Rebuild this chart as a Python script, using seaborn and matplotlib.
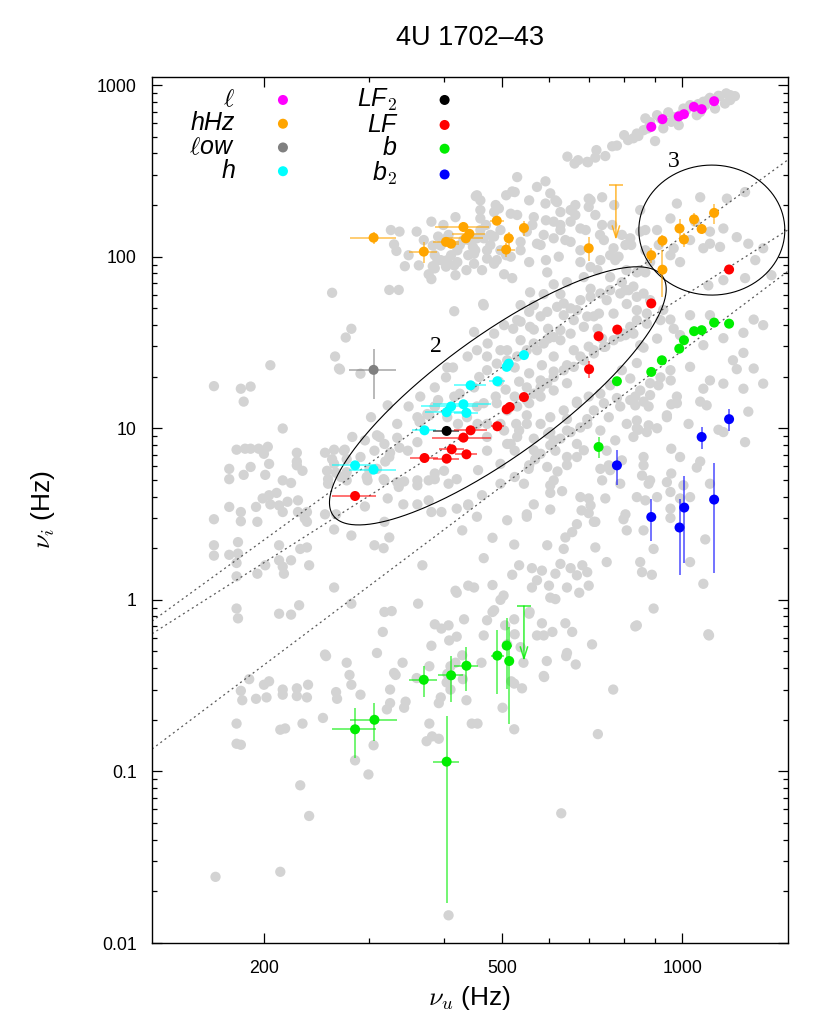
import numpy as np
import matplotlib
matplotlib.use('Agg')
import matplotlib.pyplot as plt
from matplotlib.ticker import NullFormatter, FixedLocator, LogLocator
import seaborn as sns

sns.set_theme(style='ticks')
plt.rcParams['font.family'] = ['Liberation Sans', 'DejaVu Sans']
plt.rcParams['mathtext.fontset'] = 'cm'
for k in ['text.color', 'axes.labelcolor', 'xtick.color', 'ytick.color', 'axes.edgecolor']:
    plt.rcParams[k] = 'black'

# ---------------- data (Hz) ----------------
# all QPOs of the sample (background)
grey_points = [
    # upper kHz-like track
    (643,383),(661,349),(694,357),(716,378),(744,386),(778,444),(800,511),(829,490),(840,522),(862,546),
    (901,472),(868,640),(908,668),(948,694),(959,611),(1005,730),(1031,764),(1085,800),(1113,843),(1150,866),
    (1185,895),(1179,781),(1135,730),(1058,668),(987,584),(884,608),(920,640),(1072,697),(1093,764),(1203,818),
    (1225,862),(992,668),(930,560),
    (719,418),(764,440),(812,478),(845,505),(877,560),(933,611),(970,650),(1015,715),(1064,775),(1105,818),
    (1155,862),(1203,874),(696,355),(670,365),
    # hHz band
    (530,291),(572,255),(591,275),(602,234),(525,238),(454,228),(555,213),(591,204),(626,182),(651,187),
    (698,218),(698,195),(735,222),(618,208),(460,187),(485,182),(460,167),(517,178),(565,170),(610,160),
    (651,160),(676,146),(735,153),(626,143),(550,140),(587,134),(454,128),(478,134),(537,122),(572,119),
    (610,128),(651,122),(740,125),(768,112),(783,100),(804,117),(819,128),(851,140),(449,104),(485,91),
    (463,83.5),(504,79),(520,75),(555,93),(595,81),(622,100),(676,93),(703,87),(758,102),(840,81),
    (466,52),(555,47.7),
    (381,160),(418,170),(326,143),(337,140),(360,140),(330,118),(333,108),(383,116),(395,116),(395,95.5),
    (405,95.5),(411,102),(383,88),(344,88),(377,79),(381,74),(418,78),
    (452,225),(494,191),(520,240),(391,131),(404,128),(460,143),(466,128),(485,131),(447,114),(472,109),
    (497,109),(421,109),(439,102),(390,95.5),(421,93),(449,91),(472,97.5),(490,95.5),(517,100),(386,85.5),
    (403,87.5),(436,83.5),
    (460,213),(488,200),(508,228),(530,175),(562,153),(592,163),(626,153),(663,175),(690,143),(716,175),
    (764,153),(793,134),(822,117),(729,134),(638,125),(580,117),(537,109),(508,102),(478,117),(451,109),
    (440,125),(470,153),(497,143),(614,213),(663,200),(703,213),(770,200),(851,187),(868,109),(914,117),
    (592,95.5),(676,109),(730,95.5),(807,83.5),
    (407,134),(425,117),(399,153),(370,125),(349,102),(363,89),(416,89),(386,102),(431,125),
    # around region 3
    (868,143),(908,143),(956,167),(980,204),(1072,222),(1188,218),(1274,238),(1051,160),(1113,140),(1172,146),
    (1234,130),(1290,119),(1325,95.5),(1366,112),(1113,119),(1157,114),(1085,112),(1031,125),(968,112),(956,102),
    (992,93),(884,93),(868,81),(1106,68),(1172,73),(1274,75),(1410,78),
    (1317,43),(1366,39.9),(1266,36),(1172,33.5),(1085,30.5),(1266,27.5),(1216,24.9),(1031,45.6),(1113,45.6),(956,43),
    (930,49),(968,38),(908,33.3),(862,29.5),(840,24),
    (851,83.5),(804,63.8),(773,95.5),(884,55.8),(920,42.7),(992,34.9),(851,30.5),(804,34.9),
    # region 2 and LF band
    (260,61.6),(280,38),(274,33.8),(263,26.2),(267,22.3),(324,64),(336,64),(416,48.1),(465,53),(557,62),
    (473,31.2),(497,28.5),(525,22.6),(565,37.6),(597,38),(597,33.3),(626,32.6),(634,45.6),(659,42.7),(694,44.8),
    (722,38),(667,48.8),(726,46.6),(768,46.6),(748,55.8),(808,53),(829,67),(793,71),(840,48.8),(735,33.3),
    (698,29.9),(659,28.5),(610,26.2),(583,23.3),(555,20.9),(534,18.7),(507,16.8),(488,15.3),(466,14.0),(454,13.4),
    (490,14.0),(525,15.3),(550,17.3),(580,19.0),(610,21.4),(642,23.3),(676,26.2),(712,27.3),(744,29.9),(788,34.2),
    (829,35.6),(873,40.7),(555,14.0),(580,15.3),(610,16.6),(642,18.3),(550,11.9),(528,10.6),(504,9.7),(580,10.6),
    (602,11.6),(634,12.7),(667,14.0),(698,15.3),(472,8.9),(472,7.4),(456,5.7),(497,6.2),(525,7.4),(565,8.7),
    (597,9.3),(525,5.2),(497,4.75),(463,4.07),(407,4.75),(377,4.97),(361,4.97),(336,4.55),(318,4.97),(324,6.8),
    (348,7.4),(312,8.9),(334,10.6),(349,13.4),(365,15.3),(386,17.3),(403,19.8),(414,22.6),(438,26.2),(454,28.5),
    (472,26.2),(494,18.7),(510,28.5),(537,32.6),(572,28.5),(405,22.6),(386,13.4),(361,11.6),(302,11.6),(281,8.9),
    (272,7.4),(262,6.2),(256,4.75),(269,5.2),(298,4.97),(290,6.8),(306,7.4),(295,8.5),(318,8.1),(300,5.7),
    (322,3.9),(295,3.5),(342,3.6),(361,3.6),(377,3.8),(318,2.85),(439,3.6),(454,3.05),(554,5.8),(568,6.6),
    (595,5.95),(619,5.6),(642,6.1),(667,6.8),(614,7.4),(667,8.1),(730,9.7),(754,11.6),(788,13.4),(819,14.6),
    (851,16.6),(884,18.3),(920,19.8),(956,21.8),(808,10.6),(840,11.1),(748,7.4),(829,8.9),(873,9.5),(908,10.0),
    (943,11.6),(980,14.0),(879,13.4),(758,5.7),(788,4.75),(884,4.97),(676,3.97),(610,4.97),(565,3.6),(550,3.05),
    (510,2.91),(667,2.76),(626,60.5),(703,65),(758,76),(722,83.5),(685,76),(642,71),(610,69),(587,60.5),
    (565,52.2),(537,52.2),(530,42.7),(504,39.9),(485,35.6),(449,36.4),
    (522,38),(537,41.8),(557,39),(580,44.9),(595,47.7),(618,51),(634,53.4),(651,50),(676,55.8),(703,58.3),
    (730,61),(758,63.8),(788,61),(814,63.8),(840,58.3),(862,61),(712,44.9),(685,39),(651,35.6),(626,37.3),
    (610,34),(587,31.2),(565,31.2),(550,28.5),(530,26.2),(510,24.9),(490,23.8),(472,21.8),(458,19.9),(449,17.3),
    (425,15.9),(416,15.3),(391,14.6),(386,13.4),(375,12.1),(365,11.1),(405,11.6),(422,10.6),(437,11.6),(455,10.6),
    (472,10.6),(497,10.6),(510,12.7),(530,13.4),(550,14.6),(565,15.9),(580,17.3),(595,18.3),(610,19.9),(634,21.8),
    (659,22.8),(685,24.9),(712,28.5),(740,29.8),(768,32.6),(796,35.6),(819,39),(840,42.7),(873,46.6),
    (530,8.9),(565,7.44),(610,8.5),(642,9.7),(694,10.6),(685,7.44),(642,6.8),(510,8.1),
    # left cloud
    (205,23.3),(268,22),(290,20.8),(165,17.6),(183,17),(190,17.5),(185,14.3),(322,13.6),(215,9.97),(180,7.5),
    (186,7.6),(190,7.6),(196,7.6),(203,7.8),(200,7.1),(227,7.2),(227,6.4),(253,7.2),(262,7.5),(273,7.5),
    (260,6.6),(275,6.6),(175,5.8),(185,5.35),(190,5.95),(201,5.35),(204,6.2),(175,5.05),(215,4.97),(222,4.8),
    (227,6.08),(232,5.65),(255,5.65),(256,5.05),(264,5.5),(275,5.55),(275,4.97),(297,5.2),(317,5.05),(334,4.85),
    (343,4.9),(361,4.65),(309,5.8),(319,6.4),(325,7.2),(337,7.7),(361,8.3),(334,8.8),(309,9.1),(364,10.9),
    (378,11.9),(386,5.45),(386,5.05),(420,5.05),(400,5.65),(210,4.2),(204,4.07),(199,3.9),(194,3.48),(205,3.6),
    (212,3.55),(219,3.73),(228,3.8),(215,3.25),(228,3.25),(236,3.25),(234,2.98),(175,3.48),(165,2.95),(183,3.25),
    (183,2.87),(195,2.85),(236,2.85),(253,3.15),(262,2.57),(264,3.15),(280,2.37),(324,2.31),(306,2.08),(317,2.0),
    (368,1.59),(420,1.1),(439,1.21),(181,2.17),(181,1.86),(175,1.83),(180,1.64),(180,1.37),(195,1.42),(201,1.59),
    (212,2.08),(212,1.7),(222,1.7),(215,1.56),(216,1.42),(230,1.98),(238,1.59),(236,2.02),(262,1.18),(280,0.95),
    (180,0.89),(181,0.78),(212,0.83),(222,0.82),(229,0.93),(362,0.95),(327,0.86),(316,0.65),(386,0.72),(396,0.68),
    (407,0.71),(420,0.61),(381,0.54),(309,0.49),(253,0.48),(432,0.77),(381,3.25),(396,3.25),(420,3.4),(439,3.55),
    (429,2.54),(165,2.08),(165,1.81),
    # right middle / b band
    (1031,22.8),(1113,19),(1172,18.2),(1266,17),(1366,18.2),(1234,22.1),(1317,22.3),(957,19),(913,17.8),(862,14.3),
    (959,13.8),(1072,14.3),(1099,13.6),(1290,12.5),(1274,8.3),(1150,9.8),(879,10.4),(845,9.8),(959,7.6),(992,6.8),
    (1058,5.9),(1072,6.4),(1113,4.75),(1093,2.25),(1085,1.24),(1106,0.63),(959,5.45),(943,4.85),(956,4.25),(1005,4.65),
    (992,3.9),(956,3.4),(956,3.0),(1031,3.97),(908,3.97),(862,6.08),(857,5.3),(879,4.75),(840,3.97),(868,3.8),
    (862,6.8),(793,6.5),(754,6.08),(735,4.97),(744,3.9),(698,3.9),(703,3.55),(712,2.85),(679,3.32),(804,3.15),
    (798,2.95),(808,2.54),(862,2.54),(896,1.98),(851,1.66),(890,1.4),(1031,1.66),(835,15.3),(840,10),(773,8.5),
    (730,5.8),(602,4.65),(602,4.2),(630,4.3),(544,4.75),(602,3.36),(550,3.15),(698,3.2),(716,2.85),(655,2.48),
    (638,2.31),(634,1.98),(595,2.08),(524,2.1),(520,1.4),(482,2.3),(466,1.75),(449,1.18),(482,1.22),(534,1.59),
    (561,1.53),(583,1.48),(626,1.62),(614,1.42),(651,1.53),(667,1.39),(681,1.59),(694,1.45),(698,1.21),(642,1.18),
    (599,1.21),(572,1.3),(561,1.18),(602,1.03),(614,1.01),(673,1.1),(748,1.66),(716,2.02),(857,1.45),(896,0.89),
    (840,0.71),(707,0.55),(642,0.49),(503,1.06),(482,0.85),(466,0.62),(524,0.77),(555,0.83),(583,0.73),(638,0.73),
    (655,0.65),(607,0.65),(510,0.55),(835,0.70),(1109,0.62),
    (819,19.5),(793,21.8),(758,17.8),(778,15),(740,14.0),(712,12.7),(694,11.3),(676,10.1),(651,9.5),(626,8.7),
    (602,7.96),(580,7.1),(555,6.08),(602,9.5),(642,11.3),(667,14.3),(730,15.9),(884,15.6),(980,15.3),(1085,17.0),
    (943,11.9),(1025,10.6),(1172,9.5),(835,13.6),(534,9.7),(550,10.6),(517,8.1),
    # low-frequency cloud
    (254,0.47),(275,0.43),(278,0.365),(280,0.32),(290,0.28),(264,0.29),(265,0.265),(237,0.32),(236,0.27),(227,0.305),
    (227,0.275),(215,0.30),(215,0.28),(204,0.335),(200,0.32),(202,0.27),(194,0.265),(184,0.26),(183,0.295),(189,0.345),
    (180,0.19),(180,0.145),(183,0.143),(213,0.175),(217,0.178),(232,0.19),(251,0.205),(284,0.116),(299,0.096),(230,0.083),
    (238,0.055),(305,0.142),(321,0.23),(325,0.25),(325,0.30),(330,0.375),(332,0.365),(341,0.43),(343,0.235),(345,0.255),
    (360,0.35),(378,0.41),(378,0.19),(382,0.16),(392,0.155),(374,0.15),(392,0.25),(395,0.27),(405,0.37),(404,0.33),
    (410,0.30),(418,0.43),(430,0.345),(436,0.26),(455,0.19),(462,0.43),(501,0.235),(524,0.176),(524,0.325),(518,0.335),
    (540,0.305),(543,0.43),(588,0.355),(594,0.44),(640,0.47),(664,0.42),(767,0.30),(723,0.165),(628,0.057),(407,0.0145),
    (166,0.0243),(213,0.026),
    (408,0.58),(429,0.475),(410,0.41),(445,0.19),(485,0.87),(497,1.0),(472,0.76),(506,0.71),(525,0.63),(537,0.53),
    (556,0.85),(572,0.62),(587,0.62),(587,0.36),(418,1.13),(318,0.85),
]
grey_u, grey_i = zip(*grey_points)

# l
ell_u = [888, 927, 987, 1007, 1046, 1078, 1131]
ell_i = [571, 633, 657, 677, 747, 724, 806]

# hHz
hhz_u = [305, 370, 403, 411, 431, 441, 435, 490, 513, 508, 544, 698, 888, 927, 927, 990, 1007, 1047, 1078, 1131]
hhz_i = [129, 107, 122, 119, 149, 136, 128, 162, 128, 110, 147, 112, 102, 124, 84, 146, 126, 165, 145, 180]
hhz_du = [27, 20, 20, 12, 45, 28, 30, 13, 10, 18, 8, 4, 5, 5, 3, 5, 5, 5, 5, 5]
hhz_di = [10, 15, 6, 6, 10, 8, 6, 10, 12, 10, 15, 18, 10, 10, 26, 19, 12, 15, 10, 24]
hhz_ul_u, hhz_ul_i, hhz_ul_tip = [775], [261], [125]

# low
low_u, low_i, low_du, low_di = [305], [21.9], [28], [7]

# h
h_u = [284, 305, 371, 411, 404, 431, 436, 443, 491, 509, 513, 544]
h_i = [6.08, 5.74, 9.73, 13.4, 12.4, 13.8, 12.3, 17.8, 18.8, 22.8, 23.8, 26.7]
h_du = [24, 28, 17, 45, 32, 48, 20, 27, 15, 8, 8, 10]
h_di = [0.3, 0.3, 0.5, 0.6, 0.6, 0.6, 0.6, 0.8, 0.8, 1.0, 1.0, 1.0]

# LF2
lf2_u, lf2_i, lf2_du, lf2_di = [404], [9.65], [20], [0.4]

# LF
lf_u = [284, 371, 404, 412, 436, 431, 443, 491, 509, 515, 544, 699, 725, 779, 888, 1198]
lf_i = [4.03, 6.71, 6.65, 7.54, 7.05, 8.82, 9.73, 10.27, 12.9, 13.3, 15.2, 22.1, 34.4, 37.6, 53.4, 84.2]
lf_du = [24, 20, 20, 20, 18, 49, 28, 12, 8, 8, 8, 3, 3, 3, 3, 3]
lf_di = [0.2, 0.3, 0.3, 0.3, 0.3, 0.4, 0.4, 0.5, 0.5, 0.5, 0.6, 2.5, 1, 1, 1.5, 2]

# b
b_u = [725, 778, 888, 925, 989, 1007, 1047, 1078, 1131, 1198,
       284, 306, 370, 411, 436, 404, 491, 509, 514]
b_i = [7.78, 18.8, 21.3, 24.9, 29.1, 32.6, 36.8, 37.3, 41.3, 40.7,
       0.176, 0.200, 0.342, 0.363, 0.413, 0.114, 0.473, 0.541, 0.44]
b_du = [3, 3, 3, 3, 3, 3, 3, 3, 3, 3,
        24, 28, 20, 20, 20, 20, 12, 10, 8]
b_di = [1.1, 1, 1, 1, 1, 1, 1, 1, 1, 1,
        0.057, 0.05, 0.07, 0.11, 0.12, 0.097, 0.19, 0.24, 0.25]
b_ul_u, b_ul_i, b_ul_tip = [544], [0.92], [0.44]

# b2
b2_u = [778, 888, 990, 1008, 1078, 1131, 1198]
b2_i = [6.08, 3.04, 2.64, 3.45, 8.9, 3.84, 11.3]
b2_du = [8, 3, 3, 3, 10, 3, 3]
b2_di = [1.4, 0.85, 1.25, 1.8, 1.3, 2.4, 1.6]

# power-law correlations  nu_i = A (nu_u / 1000 Hz)^k
corr_A = [131, 58.2, 28.3]
corr_k = [2.53, 2.215, 2.62]

# ---------------- figure ----------------
fig = plt.figure(figsize=(8.3, 10.25), dpi=100)
ax = fig.add_axes([152 / 830, 1 - 943 / 1025, 635.5 / 830, 866 / 1025])
ax.set_xscale('log')
ax.set_yscale('log')
ax.set_xlim(130, 1500)
ax.set_ylim(0.01, 1115)

sns.scatterplot(x=list(grey_u), y=list(grey_i), color='#d3d3d3', s=55,
                edgecolor='none', linewidth=0, ax=ax, zorder=1)

uu = np.geomspace(130, 1500, 60)
for A, k in zip(corr_A, corr_k):
    ax.plot(uu, A * (uu / 1000.0) ** k, color='0.35', lw=0.9,
            ls=(0, (1.6, 2.6)), zorder=2)


def loglog_ellipse(u0, i0, a, b, angle):
    # ellipse drawn in screen pixels around a data point
    t = np.linspace(0, 2 * np.pi, 400)
    cx, cy = ax.transData.transform((u0, i0))
    th = np.deg2rad(angle)
    ex, ey = a * np.cos(t), b * np.sin(t)
    px = cx + ex * np.cos(th) - ey * np.sin(th)
    py = cy + ex * np.sin(th) + ey * np.cos(th)
    pts = ax.transData.inverted().transform(np.column_stack([px, py]))
    ax.plot(pts[:, 0], pts[:, 1], color='black', lw=0.8, zorder=2.5)


loglog_ellipse(492, 15.45, 203.5, 60, 36)
loglog_ellipse(1121, 142.9, 73, 65, 0)
ax.text(387, 29.8, '2', fontfamily='Liberation Serif', fontsize=17,
        ha='center', va='center')
ax.text(970, 360, '3', fontfamily='Liberation Serif', fontsize=17,
        ha='center', va='center')


def draw_series(u, i, du, di, color, label):
    if du is not None:
        ax.errorbar(u, i, xerr=du, yerr=di, fmt='none', ecolor=color,
                    elinewidth=1.1, alpha=0.7, capsize=0, zorder=3)
    sns.scatterplot(x=u, y=i, color=color, s=52, edgecolor='none',
                    linewidth=0, ax=ax, zorder=4, label=label)


def upper_limit(u, i, tip, color):
    for x0, y0, y1 in zip(u, i, tip):
        ax.annotate('', xy=(x0, y1), xytext=(x0, y0),
                    arrowprops=dict(arrowstyle='->, head_length=0.7, head_width=0.22',
                                    color=color, lw=1.1, alpha=0.8,
                                    shrinkA=0, shrinkB=0), zorder=3)
    ax.scatter(u, i, marker='_', s=110, color=color, linewidths=1.1,
               alpha=0.8, zorder=3)


draw_series(ell_u, ell_i, None, None, '#ff00ff', r'$\ell$')
draw_series(hhz_u, hhz_i, hhz_du, hhz_di, '#ffa500', 'hHz')
draw_series(low_u, low_i, low_du, low_di, '#808080', r'$\ell$ow')
draw_series(h_u, h_i, h_du, h_di, '#00ffff', 'h')
draw_series(lf2_u, lf2_i, lf2_du, lf2_di, 'black', r'LF$_2$')
draw_series(lf_u, lf_i, lf_du, lf_di, '#ff0000', 'LF')
draw_series(b_u, b_i, b_du, b_di, '#00ee00', 'b')
draw_series(b2_u, b2_i, b2_du, b2_di, '#0000ff', r'b$_2$')
upper_limit(hhz_ul_u, hhz_ul_i, hhz_ul_tip, '#ffa500')
upper_limit(b_ul_u, b_ul_i, b_ul_tip, '#00ee00')

handles, labels = ax.get_legend_handles_labels()
ax.legend(handles, labels, ncol=2, markerfirst=False, frameon=False,
          loc='upper left', bbox_to_anchor=(0.059, 0.989), borderaxespad=0,
          borderpad=0, handlelength=1.0, handletextpad=1.41, columnspacing=2.45,
          labelspacing=-0.01, prop={'style': 'italic', 'size': 18})

# ticks
ax.xaxis.set_major_locator(FixedLocator([200, 500, 1000]))
ax.xaxis.set_minor_locator(FixedLocator([300, 400, 600, 700, 800, 900]))
ax.set_xticklabels(['200', '500', '1000'])
ax.xaxis.set_minor_formatter(NullFormatter())
ax.yaxis.set_major_locator(FixedLocator([0.01, 0.1, 1, 10, 100, 1000]))
ax.yaxis.set_minor_locator(LogLocator(base=10, subs=np.arange(2, 10)))
ax.set_yticklabels(['0.01', '0.1', '1', '10', '100', '1000'])
ax.yaxis.set_minor_formatter(NullFormatter())
ax.tick_params(which='both', direction='in', top=True, right=True, width=0.9)
ax.tick_params(which='major', length=7.2, labelsize=12.8)
ax.tick_params(axis='x', which='major', pad=12)
ax.tick_params(axis='y', which='major', pad=11)
ax.tick_params(which='minor', length=3.6)
for s in ax.spines.values():
    s.set_linewidth(1.0)

ax.set_xlabel(r'$\nu_u$ (Hz)', fontsize=19)
ax.set_ylabel(r'$\nu_i$ (Hz)', fontsize=19)
ax.xaxis.set_label_coords(0.5, -0.047)
ax.yaxis.set_label_coords(-0.15, 0.5)
fig.text(469.75 / 830, 1 - 38 / 1025, '4U 1702–43', ha='center', va='center', fontsize=19.5)

fig.savefig('out.png', dpi=100)
